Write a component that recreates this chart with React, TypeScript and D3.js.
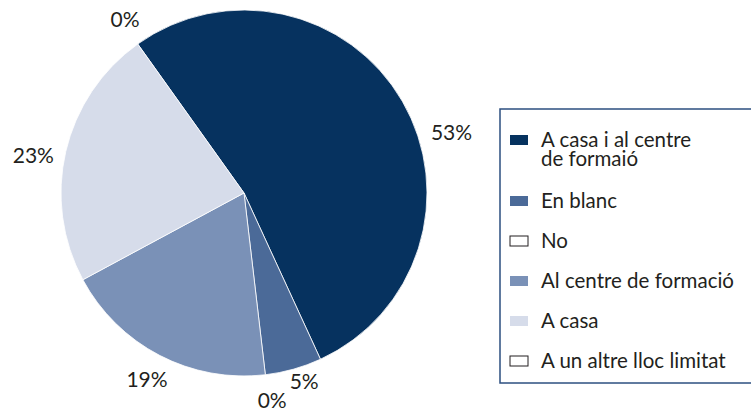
import React from "react";
import * as d3 from "d3";

// categories in drawing order (clockwise from the start angle)
const categories = [
  "A casa i al centre de formaió",
  "En blanc",
  "No",
  "Al centre de formació",
  "A casa",
  "A un altre lloc limitat",
];
const values = [53, 5, 0, 19, 23, 0];
const labels = ["53%", "5%", "0%", "19%", "23%", "0%"];
const colors = ["#06325f", "#4b6a98", "#ffffff", "#7a91b7", "#d6dcea", "#ffffff"];
// small manual nudges of the label angle (degrees)
const labelShift = [14, -2, -1, 0, -3, 1];

const width = 751;
const height = 411;
const cx = 244;
const cy = 193;
const radius = 183;
const font = "Lato, 'Open Sans', sans-serif";

const App = () => {
  const pie = d3
    .pie<number>()
    .sort(null)
    .value((d) => d)
    .startAngle((-35.5 * Math.PI) / 180)
    .endAngle(((360 - 35.5) * Math.PI) / 180);
  const arcs = pie(values);

  const arc = d3.arc<d3.PieArcDatum<number>>().innerRadius(0).outerRadius(radius);

  const labelPos = (d: d3.PieArcDatum<number>, i: number) => {
    const a = (d.startAngle + d.endAngle) / 2 + (labelShift[i] * Math.PI) / 180;
    const r = i === 0 ? 216 : i === 1 ? 198 : i === 4 ? 214 : 210;
    return [Math.sin(a) * r, -Math.cos(a) * r];
  };

  // legend rows: first entry wraps on two lines, then 40px steps
  const rowY = d3.scaleLinear().domain([1, 5]).range([208, 368]);

  return (
    <svg
      width={width}
      height={height}
      style={{ position: "absolute", left: 0, top: 0, background: "#fff" }}
    >
      <g transform={`translate(${cx},${cy})`}>
        {arcs.map((d, i) =>
          d.endAngle - d.startAngle > 0 ? (
            <path key={i} d={arc(d) || ""} fill={colors[i]} stroke="#fff" strokeWidth={0.8} />
          ) : null
        )}
        {arcs.map((d, i) => {
          const [x, y] = labelPos(d, i);
          return (
            <text
              key={"l" + i}
              x={x}
              y={y}
              dy="0.35em"
              textAnchor="middle"
              fontFamily={font}
              fontSize={21}
              fill="#231f20"
            >
              {labels[i]}
            </text>
          );
        })}
      </g>

      <rect x={500} y={109} width={270} height={274} fill="none" stroke="#2d4f80" strokeWidth={1.5} />
      {categories.map((name, k) => {
        const y = k === 0 ? 147 : rowY(k);
        const lines = k === 0 ? ["A casa i al centre", "de formaió"] : [name];
        const white = colors[k] === "#ffffff";
        return (
          <g key={"g" + k}>
            <rect
              x={510}
              y={y - 12}
              width={18}
              height={10}
              fill={colors[k]}
              stroke={white ? "#231f20" : "none"}
              strokeWidth={1}
            />
            <text x={541} y={y} fontFamily={font} fontSize={20.5} fill="#231f20">
              {lines.map((t, j) => (
                <tspan key={j} x={541} dy={j === 0 ? 0 : 19}>
                  {t}
                </tspan>
              ))}
            </text>
          </g>
        );
      })}
    </svg>
  );
};

export default App;
